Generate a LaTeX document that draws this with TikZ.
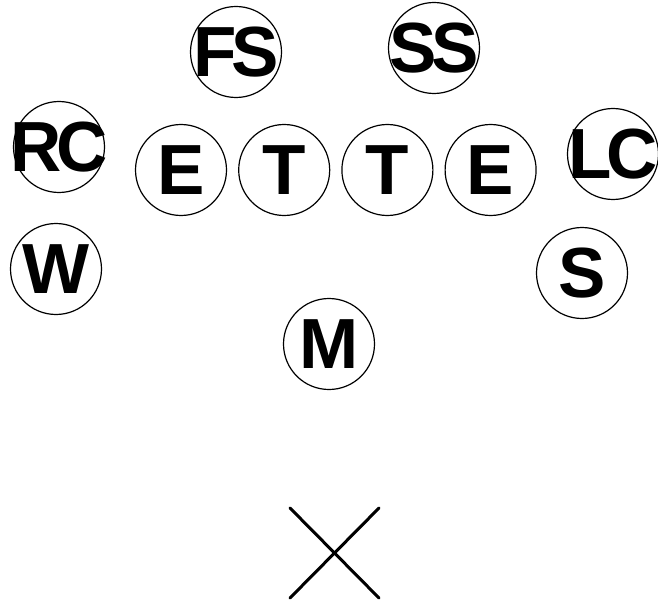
\documentclass[tikz,border=0pt]{standalone}
\usepackage{fontspec}
\setmainfont{Liberation Sans}
\newfontfamily\playerfont[LetterSpace=-8]{Liberation Sans}
\usetikzlibrary{positioning}

\begin{document}
\begin{tikzpicture}[x=1pt, y=-1pt, node distance=11pt]

  \tikzstyle{player} = [
    circle, draw, line width=1.2pt,
    minimum size=91pt, inner sep=0pt,
    font=\playerfont\fontsize{71}{71}\selectfont\bfseries
  ]

  \useasboundingbox (0,0) rectangle (658,604);

  % safeties
  \node[player] (fs) at (236,52) {\makebox[0pt]{FS}};
  \node[player] (ss) at (434,48) {\makebox[0pt]{SS}};

  % corners
  \node[player] (rc) at (59,147) {\makebox[0pt]{RC}};
  \node[player] (lc) at (613,154) {\makebox[0pt]{LC}};

  % front four
  \node[player] (le) at (181,170) {\makebox[0pt]{E}};
  \node[player, right=of le] (lt) {\makebox[0pt]{T}};
  \node[player, right=of lt] (rt) {\makebox[0pt]{T}};
  \node[player, right=of rt] (re) {\makebox[0pt]{E}};

  % linebackers
  \node[player] (w) at (56,269) {\makebox[0pt]{W}};
  \node[player] (s) at (582,273) {\makebox[0pt]{S}};
  \node[player] (m) at (329,344) {\makebox[0pt]{M}};

  % ball
  \coordinate (xtl) at (290,508);
  \coordinate (xtr) at (379,508);
  \coordinate (xbl) at (290,598);
  \coordinate (xbr) at (379,598);
  \draw[line width=3pt, line cap=round] (xtl) -- (xbr);
  \draw[line width=3pt, line cap=round] (xtr) -- (xbl);

\end{tikzpicture}
\end{document}
